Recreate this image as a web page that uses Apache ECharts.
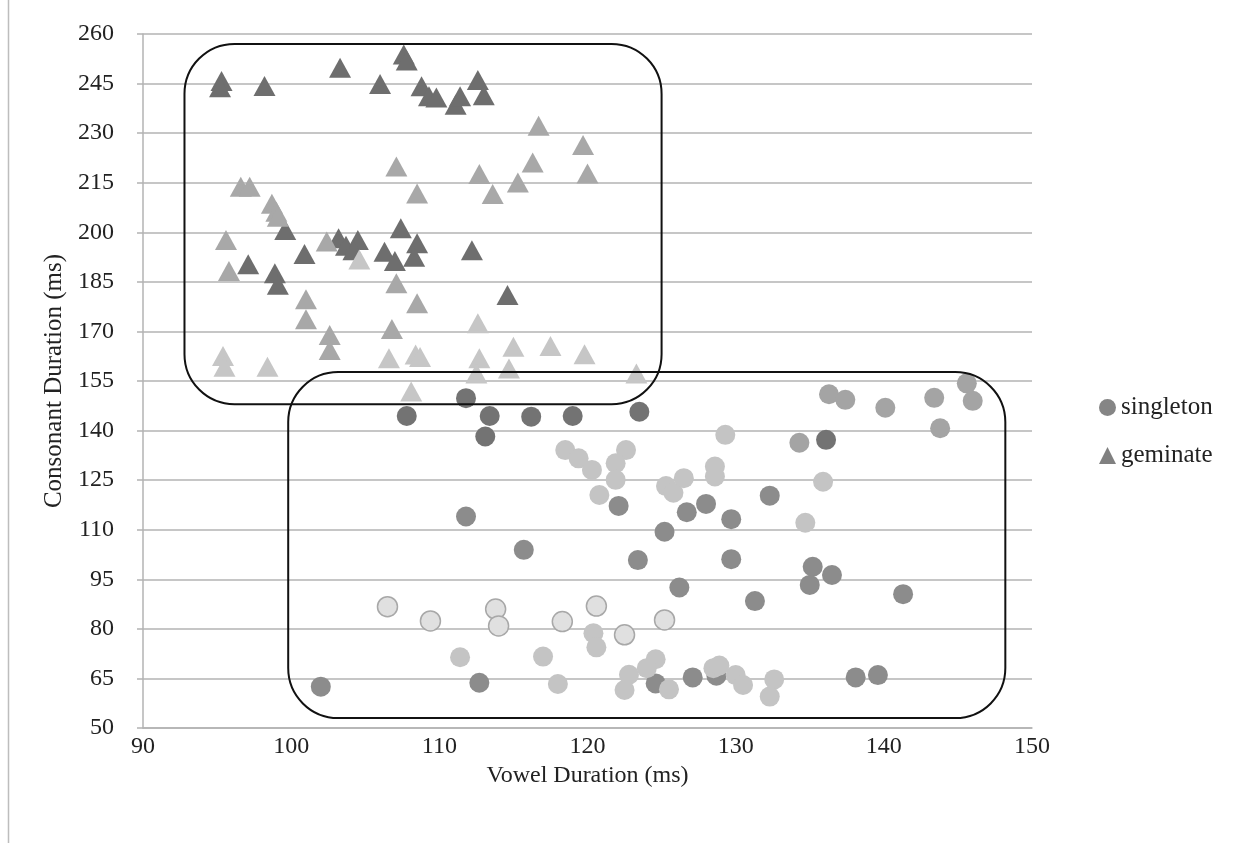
<!DOCTYPE html>
<html><head><meta charset="utf-8">
<script src="https://cdn.jsdelivr.net/npm/echarts@6/dist/echarts.min.js"></script>
<style>html,body{margin:0;padding:0;background:#fff}#c{width:1239px;height:843px}</style>
</head><body><div id="c"></div>
<script>
// ---- data (vowel duration ms, consonant duration ms) ----
const xTicks = [90, 100, 110, 120, 130, 140, 150];
const yTicks = [50, 65, 80, 95, 110, 125, 140, 155, 170, 185, 200, 215, 230, 245, 260];

const geminateDark = [[95.3,245.8],[95.2,243.9],[98.2,244.3],[103.3,249.8],[106.0,244.9],[107.6,253.8],[107.8,252.0],[108.8,244.2],[109.3,241.2],[109.8,240.8],[111.1,238.6],[111.4,241.2],[112.6,246.1],[113.0,241.5],
  [99.6,200.7],[97.1,190.3],[98.9,187.6],[99.1,184.1],[100.9,193.4],[103.2,198.2],[103.7,195.9],[104.5,197.7],[104.2,194.6],[107.4,201.2],[106.3,194.1],[107.0,191.3],[108.5,196.7],[108.3,192.6],[112.2,194.6],[114.6,181.0]];
const geminateMedium = [[116.7,232.2],[119.7,226.4],[116.3,221.1],[120.0,217.8],[112.7,217.6],[115.3,215.1],[113.6,211.6],[108.5,211.7],[107.1,219.9],[96.6,213.8],[97.2,213.8],[98.7,208.6],[99.0,206.2],[99.1,204.7],[95.6,197.7],[95.8,188.3],[102.4,197.2],[101.0,179.7],[101.0,173.7],[102.6,168.9],[102.6,164.4],[106.8,170.7],[107.1,184.6],[108.5,178.5]];
const geminateLight = [[104.6,191.8],[95.4,162.6],[95.5,159.3],[98.4,159.3],[106.6,161.9],[108.4,163.0],[108.7,162.3],[108.1,151.8],[112.6,172.5],[115.0,165.4],[117.5,165.6],[119.8,163.1],[112.7,161.9],[114.7,158.8],[112.5,157.3],[123.3,157.3]];

const singletonDark = [[107.8,144.4],[111.8,149.8],[113.4,144.4],[113.1,138.2],[116.2,144.2],[119.0,144.4],[123.5,145.7],[136.1,137.2]];
const singletonMedium = [[111.8,114.0],[115.7,103.9],[122.1,117.2],[128.0,117.8],[126.7,115.3],[129.7,113.2],[125.2,109.4],[132.3,120.3],[135.2,98.8],[135.0,93.3],[136.5,96.3],[141.3,90.5],[123.4,100.8],[129.7,101.1],[126.2,92.5],[131.3,88.4],[102.0,62.5],[112.7,63.7],[124.6,63.5],[127.1,65.3],[128.7,65.8],[138.1,65.3],[139.6,66.0]];
const singletonMidLight = [[136.3,151.0],[137.4,149.3],[140.1,146.9],[143.4,149.9],[145.6,154.3],[146.0,149.0],[143.8,140.7],[134.3,136.3]];
const singletonLight = [[118.5,134.1],[119.4,131.6],[120.3,128.1],[122.6,134.1],[121.9,130.1],[121.9,125.1],[120.8,120.5],[125.3,123.2],[125.8,121.2],[126.5,125.6],[128.6,129.1],[128.6,126.1],[129.3,138.7],[135.9,124.5],[134.7,112.1],[111.4,71.4],[117.0,71.6],[118.0,63.3],[120.4,78.7],[120.6,74.4],[124.6,70.8],[124.0,68.1],[122.8,66.1],[122.5,61.5],[125.5,61.7],[128.5,68.1],[128.9,68.9],[130.0,66.0],[130.5,63.0],[132.6,64.7],[132.3,59.5]];
const singletonPale = [[106.5,86.7],[109.4,82.4],[113.8,86.0],[114.0,80.9],[118.3,82.2],[120.6,86.9],[125.2,82.7],[122.5,78.2]];

// annotation boxes in data units: [xMin, xMax, yMax, yMin]
const boxGeminate = [92.8, 125.0, 257.0, 148.0];
const boxSingleton = [99.8, 148.2, 157.7, 53.0];

// ---- chart ----
const FONT = "'Liberation Serif','Times New Roman',serif";
const chart = echarts.init(document.getElementById('c'), null, {renderer: 'canvas'});
const circ = (name, data, color, extra) => ({
  name, type: 'scatter', data, symbol: 'circle', symbolSize: 20,
  itemStyle: Object.assign({color: color, opacity: 1}, extra || {}), emphasis: {disabled: true}
});
const tri = (name, data, color) => ({
  name, type: 'scatter', data, symbol: 'triangle', symbolSize: [22, 20],
  itemStyle: {color: color, opacity: 1}, emphasis: {disabled: true}
});
chart.setOption({
  animation: false,
  backgroundColor: '#fff',
  textStyle: {fontFamily: FONT},
  grid: {left: 143, right: 207, top: 34, bottom: 115, containLabel: false},
  xAxis: {
    type: 'value', min: xTicks[0], max: xTicks[xTicks.length - 1], interval: 10,
    name: 'Vowel Duration (ms)', nameLocation: 'middle', nameGap: 33,
    nameTextStyle: {fontFamily: FONT, fontSize: 24, color: '#222'},
    axisLine: {show: true, onZero: false, lineStyle: {color: '#b3b3b3', width: 1.5}},
    axisTick: {show: false},
    axisLabel: {fontFamily: FONT, fontSize: 24, color: '#222', margin: 7},
    splitLine: {show: false}
  },
  yAxis: {
    type: 'value', min: yTicks[0], max: yTicks[yTicks.length - 1], interval: 15,
    name: 'Consonant Duration (ms)', nameLocation: 'middle', nameGap: 76, nameRotate: 90,
    nameTextStyle: {fontFamily: FONT, fontSize: 25, color: '#222'},
    axisLine: {show: true, onZero: false, lineStyle: {color: '#b3b3b3', width: 1.5}},
    axisTick: {show: true, length: 6, inside: false, lineStyle: {color: '#b3b3b3', width: 1.5}},
    axisLabel: {fontFamily: FONT, fontSize: 24, color: '#222', margin: 29},
    splitLine: {show: true, lineStyle: {color: '#b3b3b3', width: 1.5}}
  },
  legend: {
    orient: 'vertical', left: 1094, top: 390, itemGap: 23, itemWidth: 17, itemHeight: 17,
    textStyle: {fontFamily: FONT, fontSize: 25, color: '#222', lineHeight: 25},
    selectedMode: false,
    data: [
      {name: 'singleton', icon: 'circle', itemStyle: {color: '#858585'}},
      {name: 'geminate', icon: 'triangle', itemStyle: {color: '#808080'}}
    ]
  },
  series: [
    tri('geminate', geminateDark, '#6e6e6e'),
    tri('geminate medium', geminateMedium, '#a8a8a8'),
    tri('geminate light', geminateLight, '#c6c6c6'),
    circ('singleton', singletonDark, '#737373'),
    circ('singleton medium', singletonMedium, '#8c8c8c'),
    circ('singleton mid-light', singletonMidLight, '#a4a4a4'),
    circ('singleton light', singletonLight, '#c4c4c4'),
    circ('singleton pale', singletonPale, '#e0e0e0', {borderColor: '#a8a8a8', borderWidth: 1.5})
  ]
});

function boxGraphic(b) {
  const tl = chart.convertToPixel({xAxisIndex: 0, yAxisIndex: 0}, [b[0], b[2]]);
  const br = chart.convertToPixel({xAxisIndex: 0, yAxisIndex: 0}, [b[1], b[3]]);
  return {
    type: 'rect', z: 100, silent: true,
    shape: {x: tl[0], y: tl[1], width: br[0] - tl[0], height: br[1] - tl[1], r: 50},
    style: {fill: 'none', stroke: '#111', lineWidth: 2}
  };
}
chart.setOption({
  graphic: [
    boxGraphic(boxGeminate),
    boxGraphic(boxSingleton),
    {type: 'line', silent: true, shape: {x1: 8.5, y1: 0, x2: 8.5, y2: 843}, style: {stroke: '#bdbdbd', lineWidth: 1.5}}
  ]
});
</script></body></html>
